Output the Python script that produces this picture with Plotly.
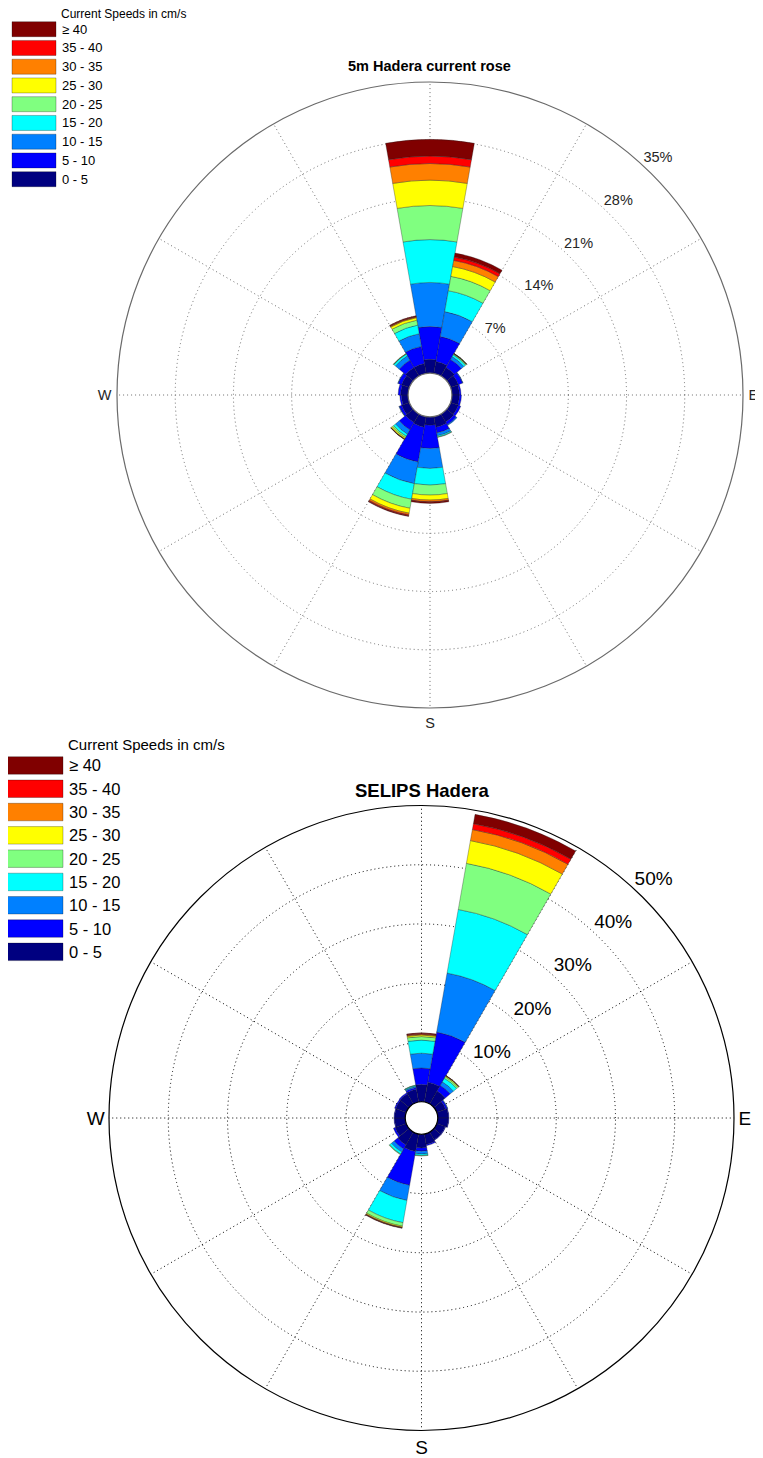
import plotly.graph_objects as go

# The page body adds an 8px margin, so the figure is drawn 8px smaller and
# every target pixel position is shifted by that offset.
OFF = 8
W, H = 763 - OFF, 1458 - OFF

# ---------------- data ----------------
DIRECTIONS = [0, 20, 40, 60, 80, 100, 120, 140, 160, 180, 200, 220, 240, 260, 280, 300, 320, 340]
SPEED_LABELS = ["0 - 5", "5 - 10", "10 - 15", "15 - 20", "20 - 25", "25 - 30", "30 - 35", "35 - 40", "≥ 40"]
SPEED_COLORS = ["#000080", "#0000FF", "#0080FF", "#00FFFF", "#80FF80", "#FFFF00", "#FF8000", "#FF0000", "#800000"]
ANG_VALS = [0, 30, 60, 90, 120, 150, 180, 210, 240, 270, 300, 330]
ANG_TEXT = ["", "", "", "E", "", "", "S", "", "", "W", "", ""]

# Top rose: "5m Hadera current rose" (% of time per direction, per speed bin)
top_0_5   = [1.65, 1.45, 1.2, 1.0, 0.9, 0.9, 1.0, 1.1, 1.3, 1.0, 1.3, 1.2, 1.0, 0.8, 0.9, 1.0, 1.2, 1.2]
top_5_10  = [3.95, 3.05, 1.1, 0.55, 0.2, 0.25, 0.3, 0.4, 0.7, 2.8, 4.25, 1.0, 0.3, 0.2, 0.3, 0.45, 1.0, 2.1]
top_10_15 = [5.3, 3.05, 0.4, 0.05, 0, 0, 0, 0.1, 0.35, 2.4, 2.65, 0.6, 0.05, 0, 0, 0.05, 0.6, 1.55]
top_15_20 = [5.15, 2.55, 0.25, 0, 0, 0, 0, 0, 0.15, 2.0, 1.9, 0.3, 0, 0, 0, 0, 0.25, 1.05]
top_20_25 = [4.1, 1.75, 0.1, 0, 0, 0, 0, 0, 0.05, 1.2, 1.1, 0.2, 0, 0, 0, 0, 0.05, 0.6]
top_25_30 = [3.05, 1.2, 0.05, 0, 0, 0, 0, 0, 0, 0.6, 0.6, 0.15, 0, 0, 0, 0, 0.02, 0.3]
top_30_35 = [2.0, 0.75, 0.02, 0, 0, 0, 0, 0, 0, 0.2, 0.2, 0.05, 0, 0, 0, 0, 0, 0.1]
top_35_40 = [0.9, 0.4, 0.01, 0, 0, 0, 0, 0, 0, 0.05, 0.1, 0.02, 0, 0, 0, 0, 0, 0.05]
top_40up  = [2.0, 0.5, 0.01, 0, 0, 0, 0, 0, 0, 0.15, 0.1, 0.01, 0, 0, 0, 0, 0, 0.1]
TOP_TICKS = [7, 14, 21, 28, 35]

# Bottom rose: "SELIPS Hadera"
bot_0_5   = [2.9, 3.4, 2.5, 1.6, 1.8, 1.8, 1.5, 1.5, 1.8, 2.3, 3.0, 2.5, 2.0, 1.8, 1.8, 1.9, 2.0, 2.2]
bot_5_10  = [2.8, 8.6, 1.1, 0.3, 0.1, 0.1, 0.1, 0.1, 0.2, 0.55, 5.8, 0.8, 0.3, 0.1, 0.1, 0.2, 0.2, 0.3]
bot_10_15 = [2.5, 10.1, 0.7, 0.1, 0, 0, 0, 0, 0, 0.5, 2.6, 0.6, 0, 0, 0, 0, 0, 0.2]
bot_15_20 = [2.2, 10.9, 0.7, 0, 0, 0, 0, 0, 0, 0.25, 3.8, 0.4, 0, 0, 0, 0, 0, 0.15]
bot_20_25 = [0.6, 7.9, 0.3, 0, 0, 0, 0, 0, 0, 0.08, 0.6, 0.1, 0, 0, 0, 0, 0, 0.05]
bot_25_30 = [0.26, 3.9, 0.15, 0, 0, 0, 0, 0, 0, 0, 0.17, 0, 0, 0, 0, 0, 0, 0]
bot_30_35 = [0.14, 1.9, 0.05, 0, 0, 0, 0, 0, 0, 0, 0.08, 0, 0, 0, 0, 0, 0, 0]
bot_35_40 = [0.1, 1.0, 0.02, 0, 0, 0, 0, 0, 0, 0, 0.05, 0, 0, 0, 0, 0, 0, 0]
bot_40up  = [0.15, 1.6, 0.01, 0, 0, 0, 0, 0, 0, 0, 0.07, 0, 0, 0, 0, 0, 0, 0]
BOT_TICKS = [10, 20, 30, 40, 50]

TOP_BINS = [top_0_5, top_5_10, top_10_15, top_15_20, top_20_25, top_25_30, top_30_35, top_35_40, top_40up]
BOT_BINS = [bot_0_5, bot_5_10, bot_10_15, bot_15_20, bot_20_25, bot_25_30, bot_30_35, bot_35_40, bot_40up]

FONT = "Liberation Sans, Arial, sans-serif"


def px(x):
    return (x - OFF) / W


def py(y):
    return 1 - (y - OFF) / H


fig = go.Figure()

for sub, bins in (("polar", TOP_BINS), ("polar2", BOT_BINS)):
    for vals, lab, col in zip(bins, SPEED_LABELS, SPEED_COLORS):
        fig.add_trace(go.Barpolar(
            r=vals, theta=DIRECTIONS, width=[20] * len(DIRECTIONS),
            name=lab, subplot=sub, showlegend=False,
            marker=dict(color=col, line=dict(color="rgba(30,30,30,0.55)", width=0.6)),
        ))


def text_trace(sub, r, theta, text, pos, size, color):
    return go.Scatterpolar(r=r, theta=theta, mode="text", text=text, textposition=pos,
                           textfont=dict(family=FONT, size=size, color=color),
                           subplot=sub, showlegend=False, cliponaxis=False, hoverinfo="skip")


# radial tick labels (percent)
fig.add_trace(text_trace("polar", TOP_TICKS, [43] * len(TOP_TICKS),
                         [f"{t}%" for t in TOP_TICKS], "top right", 14.5, "#262626"))
fig.add_trace(text_trace("polar2", BOT_TICKS, [43] * len(BOT_TICKS),
                         [f"{t}%" for t in BOT_TICKS], "top right", 19, "#000000"))


def polar_cfg(xd, yd, rmax, ticks, hole, gridcol, linecol, fsize, fcol, ticklen):
    return dict(
        domain=dict(x=xd, y=yd),
        hole=hole,
        bgcolor="white",
        barmode="stack",
        radialaxis=dict(range=[0, rmax], tickvals=ticks, showticklabels=False, ticks="",
                        showline=False, showgrid=True, gridcolor=gridcol, griddash="1px,3px",
                        gridwidth=1.2, layer="above traces"),
        angularaxis=dict(direction="clockwise", rotation=90, tickmode="array",
                         tickvals=ANG_VALS, ticktext=ANG_TEXT, ticks="outside", ticklen=ticklen,
                         tickcolor="rgba(0,0,0,0)", showline=True, linecolor=linecol, linewidth=1.2,
                         showgrid=True, gridcolor=gridcol, griddash="1px,3px", gridwidth=1.2,
                         tickfont=dict(family=FONT, size=fsize, color=fcol), layer="above traces"),
    )


def px_dom(cx, cy, R):
    return [px(cx - R), px(cx + R)], [py(cy + R), py(cy - R)]


xd1, yd1 = px_dom(430, 395, 313)
xd2, yd2 = px_dom(421.5, 1118, 312.5)

shapes = []
annotations = []


def add_legend(x0, x1, y_first, step, h, lab_x, fsize, title_y, title_size):
    for i, (lab, col) in enumerate(zip(SPEED_LABELS[::-1], SPEED_COLORS[::-1])):
        top = y_first + step * i
        shapes.append(dict(type="rect", xref="paper", yref="paper",
                           x0=px(x0), x1=px(x1), y0=py(top + h), y1=py(top),
                           fillcolor=col, line=dict(color="rgba(0,0,0,0.35)", width=0.8)))
        annotations.append(dict(text=lab, xref="paper", yref="paper", x=px(lab_x),
                                y=py(top + h / 2), xanchor="left", yanchor="middle",
                                showarrow=False, font=dict(family=FONT, size=fsize, color="#000")))
    annotations.append(dict(text="Current Speeds in cm/s", xref="paper", yref="paper",
                            x=px(lab_x), y=py(title_y), xanchor="left", yanchor="middle",
                            showarrow=False, borderpad=0,
                            font=dict(family=FONT, size=title_size, color="#000")))


add_legend(12, 56, 21.7, 18.75, 15, 60, 13, 14, 12)
add_legend(6, 63, 756.7, 23.3, 17.5, 67, 16.5, 744, 15)

annotations.append(dict(text="<b>5m Hadera current rose</b>", xref="paper", yref="paper",
                        x=px(430), y=py(66), xanchor="center", yanchor="middle", showarrow=False,
                        font=dict(family=FONT, size=14.5, color="#000")))
annotations.append(dict(text="<b>SELIPS Hadera</b>", xref="paper", yref="paper",
                        x=px(422), y=py(790), xanchor="center", yanchor="middle", showarrow=False,
                        font=dict(family=FONT, size=18.5, color="#000")))

fig.update_layout(
    width=W, height=H, margin=dict(l=0, r=0, t=0, b=0, pad=0),
    paper_bgcolor="white", plot_bgcolor="white", showlegend=False,
    font=dict(family=FONT),
    polar=polar_cfg(xd1, yd1, 35, TOP_TICKS, 0.07, "#6e6e6e", "#6a6a6a", 14.5, "#262626", 2),
    polar2=polar_cfg(xd2, yd2, 50, BOT_TICKS, 0.052, "#000000", "#000000", 19, "#000000", 0),
    shapes=shapes, annotations=annotations,
)

fig.write_html("out.html")
